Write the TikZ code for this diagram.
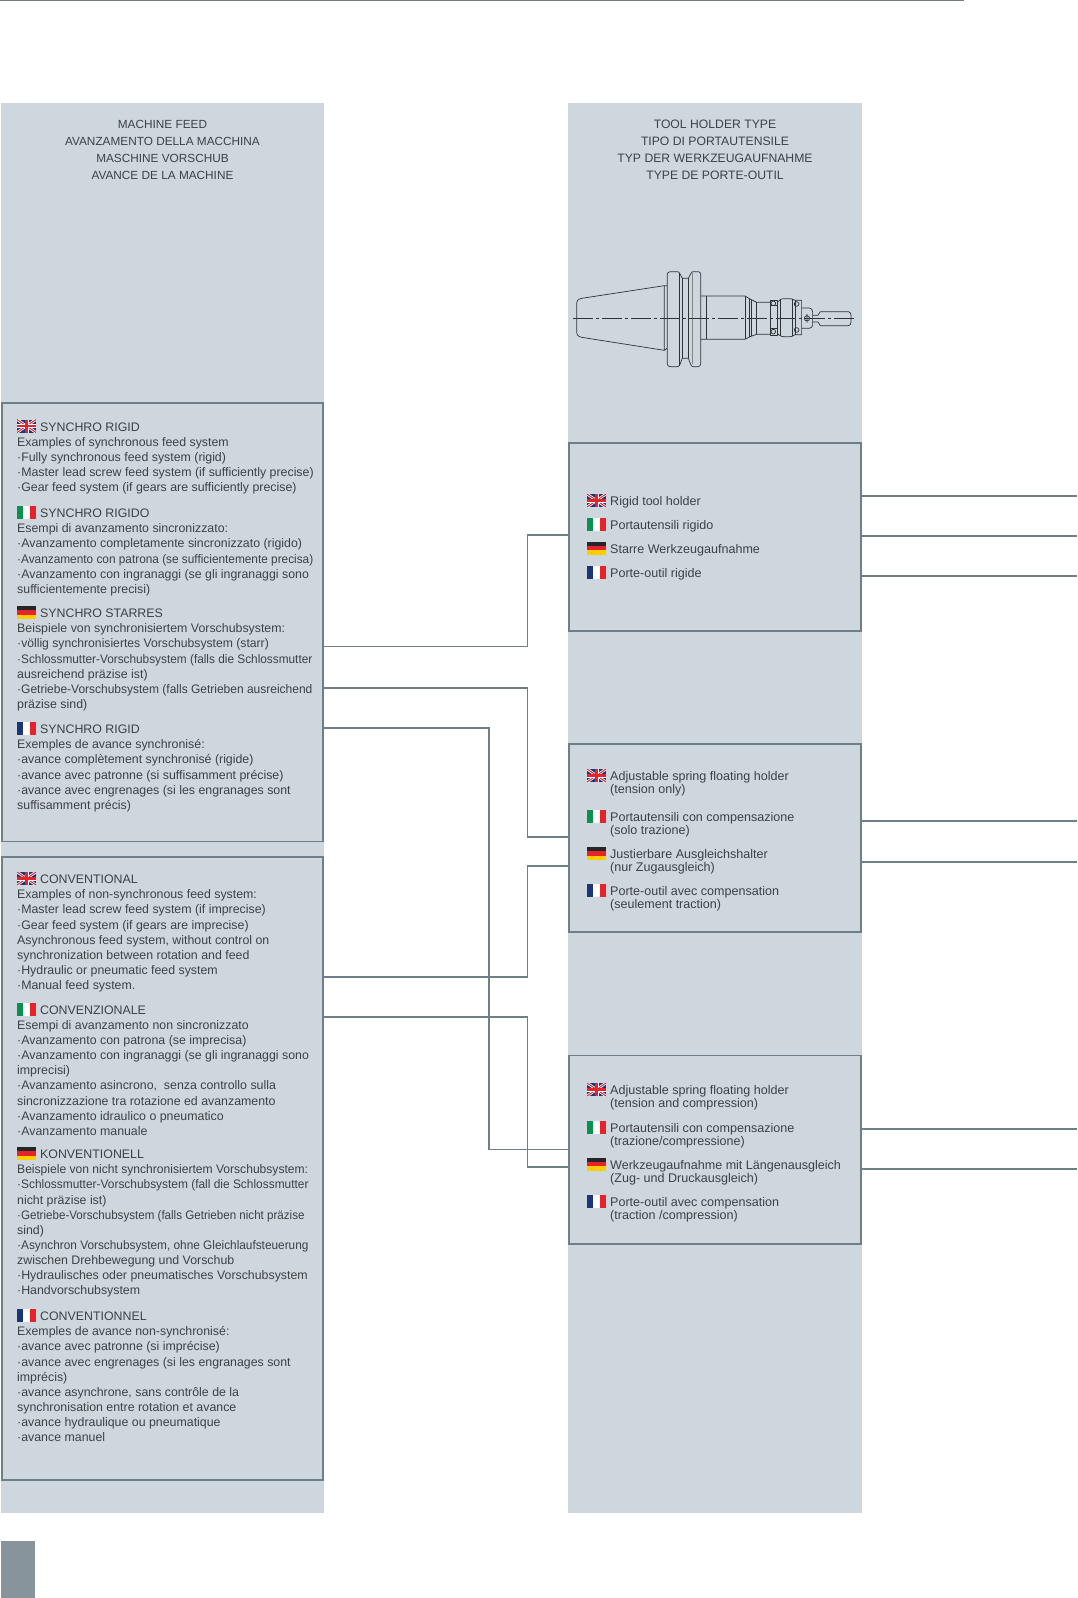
\documentclass[tikz,border=0pt]{standalone}
\usepackage{fontspec}
\setmainfont{Liberation Sans}
\usetikzlibrary{calc}
\definecolor{panel}{HTML}{CFD7DE}
\definecolor{rulec}{HTML}{6E7F88}
\definecolor{squarec}{HTML}{87949C}
\definecolor{txt}{HTML}{3C4144}
\definecolor{draft}{HTML}{2E3336}
\definecolor{fblue}{HTML}{1C3578}
\definecolor{fred}{HTML}{E4232B}
\definecolor{fgreen}{HTML}{0A9150}
\definecolor{fgold}{HTML}{FFCC00}
\tikzset{
 panelbox/.style={fill=panel,draw=none,inner sep=0,anchor=north west},
 framebox/.style={fill=panel,draw=rulec,line width=1.9pt,inner sep=0,anchor=north west},
 conn/.style={draw=rulec,line width=1.9pt},
 title/.style={inner sep=0,align=center,text=txt,font=\fontsize{12.2}{17}\selectfont,anchor=north},
 lefttext/.style={inner sep=0,align=left,anchor=north west,text=txt,font=\fontsize{12.36}{15.15}\selectfont},
 righttext/.style={inner sep=0,align=left,anchor=north west,text=txt,font=\fontsize{12.55}{13.2}\selectfont},
 uk/.pic={\begin{scope}
   \clip (0,0) rectangle (19,13);
   \fill[fblue] (0,0) rectangle (19,13);
   \draw[white,line width=2.6pt] (0,0)--(19,13) (19,0)--(0,13);
   \draw[fred,line width=1pt] (0,0)--(19,13) (19,0)--(0,13);
   \draw[white,line width=4pt] (9.5,0)--(9.5,13) (0,6.5)--(19,6.5);
   \draw[fred,line width=2.4pt] (9.5,0)--(9.5,13) (0,6.5)--(19,6.5);
  \end{scope}},
 it/.pic={\fill[fgreen] (0,0) rectangle (6.33,13);\fill[white] (6.33,0) rectangle (12.67,13);\fill[fred] (12.67,0) rectangle (19,13);},
 de/.pic={\fill[black!85] (0,0) rectangle (19,4.33);\fill[fred] (0,4.33) rectangle (19,8.67);\fill[fgold] (0,8.67) rectangle (19,13);},
 fr/.pic={\fill[fblue] (0,0) rectangle (6.33,13);\fill[white] (6.33,0) rectangle (12.67,13);\fill[fred] (12.67,0) rectangle (19,13);},
}
\newcommand{\leftsec}[4]{% flag, name, center y, text
  \pic at (17,#3-6.5) {#1};
  \node[lefttext] (#2) at (17,#3-3.7) {#4};
}
\newcommand{\rightsec}[4]{%
  \pic at (587,#3-6.5) {#1};
  \node[righttext] (#2) at (610,#3-4.3) {#4};
}
\newcommand{\sq}[2]{\scalebox{#1}[1]{#2}}
\begin{document}
\begin{tikzpicture}[x=1pt,y=-1pt]
\useasboundingbox (0,0) rectangle (1077,1598);
% page furniture
\fill[rulec] (0,0) rectangle (964,1.2);
\node[panelbox,minimum width=323pt,minimum height=1410pt] (colL) at (1,103) {};
\node[panelbox,minimum width=294pt,minimum height=1410pt] (colR) at (568,103) {};
\node[fill=squarec,inner sep=0,minimum width=34pt,minimum height=57pt,anchor=north west] (sq) at (1,1541) {};
% titles
\node[title,font=\fontsize{11.8}{17}\selectfont] (tL) at (162.5,120) {MACHINE FEED\\AVANZAMENTO DELLA MACCHINA\\MASCHINE VORSCHUB\\AVANCE DE LA MACHINE};
\node[title] (tR) at (715,120) {TOOL HOLDER TYPE\\TIPO DI PORTAUTENSILE\\TYP DER WERKZEUGAUFNAHME\\TYPE DE PORTE-OUTIL};
% frames
\node[framebox,minimum width=321pt,minimum height=438.5pt] (L1) at (1,402) {};
\node[framebox,minimum width=321pt,minimum height=623pt] (L2) at (1,856) {};
\node[framebox,minimum width=292.2pt,minimum height=188.3pt] (R1) at (568,442) {};
\node[framebox,minimum width=292.2pt,minimum height=188.3pt] (R2) at (568,743) {};
\node[framebox,minimum width=292.2pt,minimum height=188.3pt] (R3) at (568,1054.5) {};
% lanes
\coordinate (xa) at (527.5,0);
\coordinate (xc) at (489,0);
\coordinate (edge) at (1077,0);
% connectors
\coordinate (a1) at ($(L1.north east)+(0,244.5)$);
\coordinate (a2) at ($(R1.north west)+(0,93)$);
\draw[conn] (a1) -- (a1 -| xa) -- (xa |- a2) -- (a2);
\coordinate (b1) at ($(L1.north east)+(0,286)$);
\coordinate (b2) at ($(R2.north west)+(0,94)$);
\draw[conn] (b1) -- (b1 -| xa) -- (xa |- b2) -- (b2);
\coordinate (c1) at ($(L1.north east)+(0,325.7)$);
\coordinate (c2) at ($(R3.north west)+(0,95)$);
\draw[conn] (c1) -- (c1 -| xc) -- (xc |- c2) -- (c2);
\coordinate (d1) at ($(L2.north east)+(0,121)$);
\coordinate (d2) at ($(R2.north west)+(0,123)$);
\draw[conn] (d1) -- (d1 -| xa) -- (xa |- d2) -- (d2);
\coordinate (e1) at ($(L2.north east)+(0,161)$);
\coordinate (e2) at ($(R3.north west)+(0,112.5)$);
\draw[conn] (e1) -- (e1 -| xa) -- (xa |- e2) -- (e2);
\foreach \b/\dy in {R1/54,R1/94,R1/134,R2/78,R2/119,R3/74.5,R3/114.5}{
  \coordinate (p) at ($(\b.north east)+(0,\dy)$);
  \draw[conn] (p) -- (p -| edge);
}
% left texts
\leftsec{uk}{s1}{426}{\hspace*{23pt}SYNCHRO RIGID\\Examples of synchronous feed system\\·Fully synchronous feed system (rigid)\\·Master lead screw feed system (if sufficiently precise)\\·Gear feed system (if gears are sufficiently precise)}
\leftsec{it}{s2}{512.5}{\hspace*{23pt}SYNCHRO RIGIDO\\Esempi di avanzamento sincronizzato:\\·Avanzamento completamente sincronizzato (rigido)\\\sq{0.957}{·Avanzamento con patrona (se sufficientemente precisa)}\\·Avanzamento con ingranaggi (se gli ingranaggi sono\\sufficientemente precisi)}
\leftsec{de}{s3}{612.5}{\hspace*{23pt}SYNCHRO STARRES\\Beispiele von synchronisiertem Vorschubsystem:\\\sq{0.985}{·völlig synchronisiertes Vorschubsystem (starr)}\\\sq{0.957}{·Schlossmutter-Vorschubsystem (falls die Schlossmutter}\\ausreichend präzise ist)\\\sq{0.97}{·Getriebe-Vorschubsystem (falls Getrieben ausreichend}\\präzise sind)}
\leftsec{fr}{s4}{728.5}{\hspace*{23pt}SYNCHRO RIGID\\Exemples de avance synchronisé:\\·avance complètement synchronisé (rigide)\\·avance avec patronne (si suffisamment précise)\\·avance avec engrenages (si les engranages sont\\suffisamment précis)}
\leftsec{uk}{s5}{878.5}{\hspace*{23pt}CONVENTIONAL\\Examples of non-synchronous feed system:\\·Master lead screw feed system (if imprecise)\\·Gear feed system (if gears are imprecise)\\Asynchronous feed system, without control on\\synchronization between rotation and feed\\·Hydraulic or pneumatic feed system\\·Manual feed system.}
\leftsec{it}{s6}{1009}{\hspace*{23pt}CONVENZIONALE\\Esempi di avanzamento non sincronizzato\\·Avanzamento con patrona (se imprecisa)\\·Avanzamento con ingranaggi (se gli ingranaggi sono\\imprecisi)\\·Avanzamento asincrono,\ \ senza controllo sulla\\sincronizzazione tra rotazione ed avanzamento\\·Avanzamento idraulico o pneumatico\\·Avanzamento manuale}
\leftsec{de}{s7}{1153.5}{\hspace*{23pt}KONVENTIONELL\\\sq{0.978}{Beispiele von nicht synchronisiertem Vorschubsystem:}\\\sq{0.964}{·Schlossmutter-Vorschubsystem (fall die Schlossmutter}\\nicht präzise ist)\\\sq{0.938}{·Getriebe-Vorschubsystem (falls Getrieben nicht präzise}\\sind)\\\sq{0.957}{·Asynchron Vorschubsystem, ohne Gleichlaufsteuerung}\\zwischen Drehbewegung und Vorschub\\·Hydraulisches oder pneumatisches Vorschubsystem\\·Handvorschubsystem}
\leftsec{fr}{s8}{1315.5}{\hspace*{23pt}CONVENTIONNEL\\Exemples de avance non-synchronisé:\\·avance avec patronne (si imprécise)\\·avance avec engrenages (si les engranages sont\\imprécis)\\·avance asynchrone, sans contrôle de la\\synchronisation entre rotation et avance\\·avance hydraulique ou pneumatique\\·avance manuel}
% right texts
\rightsec{uk}{r1}{500.5}{Rigid tool holder}
\rightsec{it}{r2}{524}{Portautensili rigido}
\rightsec{de}{r3}{548}{Starre Werkzeugaufnahme}
\rightsec{fr}{r4}{572.5}{Porte-outil rigide}
\rightsec{uk}{r5}{775.5}{Adjustable spring floating holder\\(tension only)}
\rightsec{it}{r6}{816}{Portautensili con compensazione\\(solo trazione)}
\rightsec{de}{r7}{853.5}{Justierbare Ausgleichshalter\\(nur Zugausgleich)}
\rightsec{fr}{r8}{890.5}{Porte-outil avec compensation\\(seulement traction)}
\rightsec{uk}{r9}{1089.5}{Adjustable spring floating holder\\(tension and compression)}
\rightsec{it}{r10}{1127}{Portautensili con compensazione\\(trazione/compressione)}
\rightsec{de}{r11}{1164}{Werkzeugaufnahme mit Längenausgleich\\(Zug- und Druckausgleich)}
\rightsec{fr}{r12}{1201.5}{Porte-outil avec compensation\\(traction /compression)}
% tool holder drawing
\begin{scope}[shift={(540,240)},x=0.3333pt,y=-0.3333pt,draw=draft,line width=0.7pt,line join=round]
 \draw (373,137) -- (125,175) .. controls (115,177) and (110,182) .. (110,192) -- (110,275) .. controls (110,285) and (115,290) .. (125,292) -- (373,331);
 \draw (373,137) -- (381,137) (373,331) -- (381,325) (373,137) -- (373,331);
 \draw (392,95) -- (412,95) .. controls (416,95) and (418,97) .. (420,102) -- (427,115) -- (445,115) -- (452,102) .. controls (454,97) and (456,95) .. (460,95) -- (474,95) .. controls (479,95) and (482,98) .. (482,103) -- (482,371) .. controls (482,376) and (479,380) .. (474,380) -- (460,380) .. controls (456,380) and (454,378) .. (452,373) -- (445,355) -- (427,355) -- (420,373) .. controls (418,378) and (416,380) .. (412,380) -- (392,380) .. controls (385,380) and (382,377) .. (382,371) -- (382,103) .. controls (382,98) and (385,95) .. (392,95) -- cycle;
 \draw (418,98) -- (418,378) (427,115) -- (427,355) (445,115) -- (445,355);
 \draw[line width=1pt,draft!60] (457,100) -- (457,372);
 \draw (482,168) -- (615,168) -- (630,177) -- (650,187) -- (690,187);
 \draw (482,298) -- (615,298) -- (630,290) -- (650,283) -- (690,283);
 \draw (499,168) -- (499,298) (615,168) -- (615,298) (628,177) -- (628,290) (635,180) -- (635,288) (650,187) -- (650,283);
 \draw (690,180) rectangle (712,287);
 \draw (690,197) -- (712,197) (690,265) -- (712,265);
 \draw (700,190) circle[radius=7] (700,275) circle[radius=7];
 \draw (712,187) -- (722,178) .. controls (724,176) and (726,176) .. (730,176) -- (750,176) .. controls (755,176) and (760,178) .. (765,181) -- (785,181) -- (785,284) -- (765,284) .. controls (760,288) and (755,290) .. (750,290) -- (730,290) .. controls (726,290) and (724,290) .. (722,288) -- (712,281);
 \draw (722,178) -- (722,288) (757,178) -- (757,288) (765,181) -- (765,284);
 \draw (770,192) circle[radius=7] (770,270) circle[radius=7];
 \draw (785,204) -- (808,204) .. controls (813,204) and (818,209) .. (818,215) -- (818,255) .. controls (818,260) and (813,265) .. (808,265) -- (785,265);
 \draw (801,235) circle[radius=8] (801,222) -- (801,248);
 \draw (818,226) -- (834,226) -- (841,215) -- (925,215) .. controls (930,215) and (933,220) .. (933,225) -- (933,247) .. controls (933,252) and (930,257) .. (925,257) -- (841,257) -- (834,246) -- (818,246);
 \draw[line width=0.8pt,dash pattern=on 20pt off 3pt on 3pt off 3pt] (98,235) -- (946,235);
\end{scope}
\end{tikzpicture}
\end{document}
